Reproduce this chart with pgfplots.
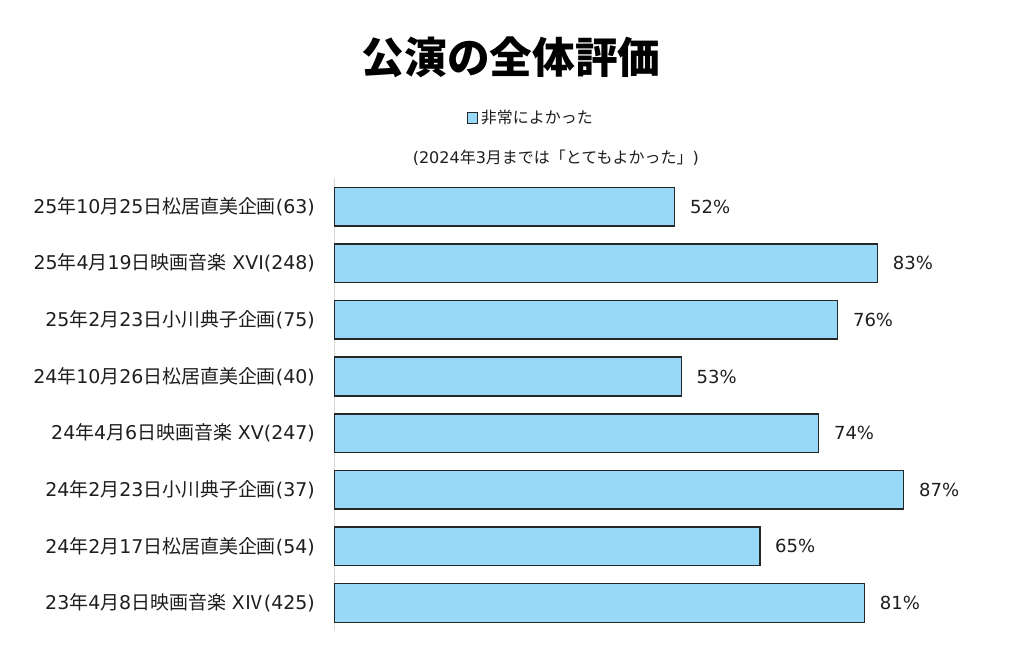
\documentclass[border=0pt]{standalone}
\usepackage{pgfplots}
\pgfplotsset{compat=1.18}
\usepackage{pgfplotstable}
\usepackage{fontspec}
\setmainfont{DejaVu Sans}
\newfontfamily\jp{Noto Sans CJK JP}
\definecolor{barblue}{RGB}{151,217,246}
\definecolor{txt}{RGB}{30,30,30}
\definecolor{axgray}{RGB}{217,217,217}
\pgfplotstableread{
y x lab
0 81 81
1 65 65
2 87 87
3 74 74
4 53 53
5 76.9 76
6 83 83
7 52 52
}\datatable

\begin{document}
\begin{tikzpicture}
\useasboundingbox (-250.9pt,-14pt) rectangle (517.1pt,473.5pt);
\begin{axis}[
 scale only axis, width=490.7pt, height=339.8pt,
 xbar, bar width=29pt,
 xmin=0, xmax=100, ymin=-0.5, ymax=7.5,
 hide x axis,
 axis y line*=left,
 y axis line style={axgray, line width=0.75pt, -},
 ytick={0,...,7},
 yticklabels={
  {23{\jp 年}4{\jp 月}8{\jp 日映画音楽} X{\jp Ⅳ}(425)},
  {24{\jp 年}2{\jp 月}17{\jp 日松居直美企画}(54)},
  {24{\jp 年}2{\jp 月}23{\jp 日小川典子企画}(37)},
  {24{\jp 年}4{\jp 月}6{\jp 日映画音楽} XV(247)},
  {24{\jp 年}10{\jp 月}26{\jp 日松居直美企画}(40)},
  {25{\jp 年}2{\jp 月}23{\jp 日小川典子企画}(75)},
  {25{\jp 年}4{\jp 月}19{\jp 日映画音楽} XVI(248)},
  {25{\jp 年}10{\jp 月}25{\jp 日松居直美企画}(63)}},
 major tick length=0pt,
 yticklabel style={font=\fontsize{14.2}{16}\selectfont, text=txt, inner sep=0pt, xshift=-14.6pt},
 clip=false,
 point meta=explicit symbolic,
 nodes near coords={\pgfplotspointmeta\%},
 nodes near coords style={font=\fontsize{13.5}{16}\selectfont, text=txt, anchor=west, inner sep=0pt, xshift=11pt},
 legend style={at={(axis description cs:0.3004,1.133)}, anchor=center, draw=none, fill=none, font=\fontsize{12}{14}\selectfont\jp, text=txt},
 legend cell align=left,
 legend image code/.code={\draw[#1, line width=0.8pt] (0pt,-4pt) rectangle (8pt,4pt);},
]
\addplot[fill=barblue, draw=black!85, line width=1.1pt] table[x=x, y=y, meta=lab] {\datatable};
\legend{非常によかった}
\end{axis}
\node[font=\jp\bfseries\fontsize{32}{36}\selectfont] at (132.4pt,430.7pt) {公演の全体評価};
\node[font=\fontsize{12}{14}\selectfont, text=txt] at (166pt,355pt) {(2024{\jp 年}3{\jp 月までは「とてもよかった」})};
\end{tikzpicture}
\end{document}
